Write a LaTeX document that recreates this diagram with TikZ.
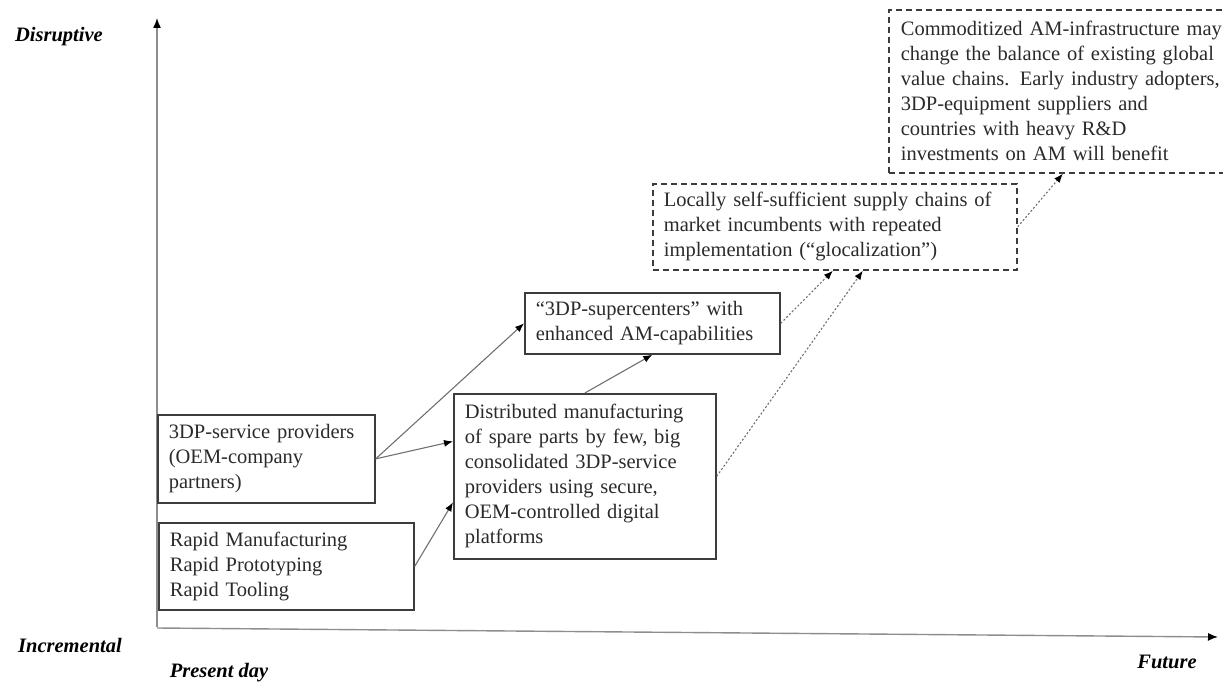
\documentclass[tikz,border=0pt]{standalone}
\usepackage{fontspec}
\setmainfont{Liberation Serif}
\usetikzlibrary{arrows.meta}
\definecolor{boxline}{HTML}{3C3C3C}
\definecolor{txt}{HTML}{2A2A2A}
\definecolor{conn}{HTML}{707070}
\begin{document}
\begin{tikzpicture}[x=1pt,y=-1pt,
  every node/.style={font=\fontsize{20.5pt}{25pt}\selectfont, text=txt},
  box/.style={draw=boxline, line width=1.7pt, anchor=north west, inner xsep=11pt, inner ysep=0pt, align=left},
  dbox/.style={box, dash pattern=on 6pt off 4pt},
  solidarrow/.style={draw=conn, line width=1.1pt, -{Latex[length=9pt,width=7pt,color=black]}},
  dotarrow/.style={draw=conn, line width=1.1pt, dash pattern=on 2pt off 2pt, -{Latex[length=9pt,width=7pt,color=black]}},
  axis/.style={draw=conn!80, line width=1.4pt, -{Latex[length=10pt,width=8pt,color=black]}},
  axlabel/.style={font=\fontsize{20.5pt}{25pt}\selectfont\bfseries\itshape, text=black}]
\useasboundingbox (0,0) rectangle (1223,684);
% axes
\coordinate (o) at (157,628);
\coordinate (ytop) at (157,18);
\coordinate (xend) at (1218,637);
\draw[axis] (157,627) -- (ytop);
\draw[axis] (o) -- (xend);
% axis labels
\node[axlabel] (dis) at (59,37) {Disruptive};
\node[axlabel] (inc) at (70,645) {Incremental};
\node[axlabel] (pres) at (219,673) {Present day};
\node[axlabel] (fut) at (1167,662) {Future};
% boxes
\node[box, text width=195pt, minimum width=217pt, minimum height=88pt] (A) at (157,414)
  {3DP-service providers\\(OEM-company\\partners)};
\node[box, text width=233pt, minimum width=255pt, minimum height=87pt] (B) at (158,522)
  {Rapid Manufacturing\\Rapid Prototyping\\Rapid Tooling};
\node[box, text width=240pt, minimum width=262pt, minimum height=165pt] (C) at (453,393)
  {Distributed manufacturing\\of spare parts by few, big\\consolidated 3DP-service\\providers using secure,\\OEM-controlled digital\\platforms};
\node[box, text width=233pt, minimum width=255pt, minimum height=61pt] (D) at (524,292)
  {``3DP-supercenters'' with\\enhanced AM-capabilities};
\node[dbox, text width=342pt, minimum width=364pt, minimum height=86pt] (E) at (652,183)
  {Locally self-sufficient supply chains of\\market incumbents with repeated\\implementation (``glocalization'')};
\node[dbox, inner xsep=12pt, text width=326pt, minimum width=350pt, minimum height=163pt] (F) at (888,9)
  {\mbox{Commoditized AM-infrastructure may}\\\mbox{change the balance of existing global}\\\mbox{value chains. Early industry adopters,}\\3DP-equipment suppliers and\\countries with heavy R\&D\\investments on AM will benefit};
% connectors
\draw[solidarrow] (A.east) -- (D.west);
\draw[solidarrow] (A.east) -- ([yshift=35pt]C.west);
\draw[solidarrow] (B.east) -- ([yshift=-26pt]C.west);
\draw[solidarrow] (C.north) -- (D.south);
\draw[dotarrow] (D.east) -- ([xshift=-2pt]E.south);
\draw[dotarrow] (C.east) -- ([xshift=28pt]E.south);
\draw[dotarrow] (E.east) -- ([xshift=-1pt]F.south);
\end{tikzpicture}
\end{document}
